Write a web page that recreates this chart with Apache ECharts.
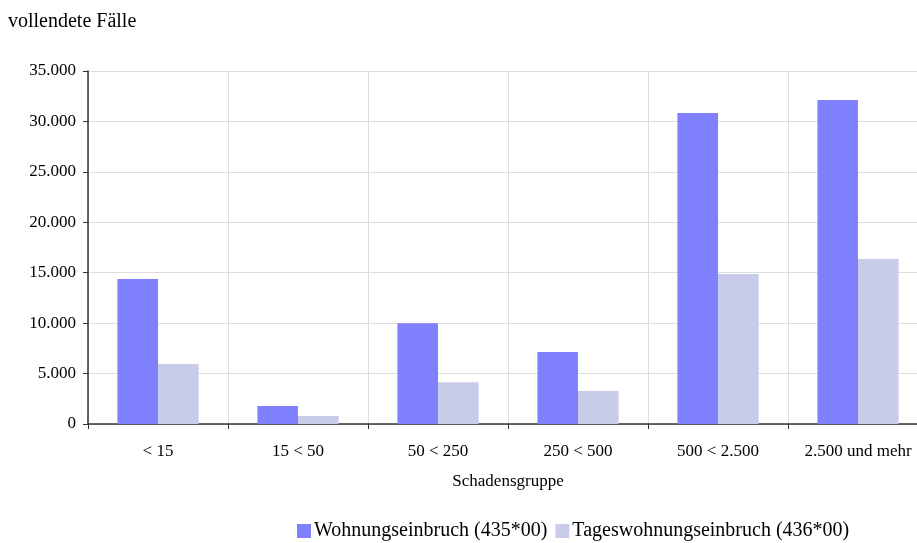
<!DOCTYPE html>
<html>
<head>
<meta charset="utf-8">
<script src="https://cdn.jsdelivr.net/npm/echarts@6/dist/echarts.min.js"></script>
<style>
  html, body { margin: 0; padding: 0; background: #fff; overflow: hidden; }
  #chart { width: 928px; height: 543px; }
</style>
</head>
<body>
<div id="chart"></div>
<script>
    // Schadensgruppen (x-Achse)
    var categories = ['< 15', '15 < 50', '50 < 250', '250 < 500', '500 < 2.500', '2.500 und mehr']
    var wohnung = [14380, 1780, 10000, 7140, 30830, 32120]
    var tageswohnung = [5950, 790, 4150, 3270, 14870, 16360]
    var seriesNames = ['Wohnungseinbruch (435*00)', 'Tageswohnungseinbruch (436*00)']

    var font = 'Liberation Serif'
    // the plot runs a bit past the right window edge, as in the original
    var myChart = echarts.init(document.getElementById('chart'))

    function fmt(v) {
        return String(v).replace(/\B(?=(\d{3})+(?!\d))/g, '.')
    }

    var option = {
        animation: false,
        textStyle: { fontFamily: font, color: '#000' },
        title: {
            text: 'vollendete Fälle',
            left: 3,
            top: 7,
            padding: 5,
            textStyle: { fontFamily: font, fontSize: 20, fontWeight: 'normal', color: '#000' }
        },
        legend: {
            bottom: -3,
            left: 292,
            itemWidth: 14,
            itemHeight: 14,
            itemGap: 8,
            icon: 'rect',
            textStyle: { fontFamily: font, fontSize: 20, color: '#000', padding: [0, 0, 0, -2] },
            data: seriesNames
        },
        grid: {
            left: 88,
            top: 71,
            right: 0,
            bottom: 119
        },
        xAxis: {
            type: 'category',
            data: categories,
            name: 'Schadensgruppe',
            nameLocation: 'middle',
            nameGap: 49,
            nameTextStyle: { fontFamily: font, fontSize: 17, color: '#000' },
            axisLine: { lineStyle: { color: '#333', width: 1.5 } },
            axisTick: { show: true, length: 5, lineStyle: { color: '#333' } },
            axisLabel: { fontFamily: font, fontSize: 17, color: '#000', margin: 19 },
            splitLine: { show: true, lineStyle: { color: '#ddd' } }
        },
        yAxis: {
            type: 'value',
            min: 0,
            max: 35000,
            interval: 5000,
            axisLine: { show: true, lineStyle: { color: '#333', width: 1.5 } },
            axisTick: { show: true, length: 5, lineStyle: { color: '#333' } },
            axisLabel: { fontFamily: font, fontSize: 17, color: '#000', margin: 12, formatter: fmt },
            splitLine: { lineStyle: { color: '#ddd' } }
        },
        series: [
            {
                name: seriesNames[0],
                type: 'bar',
                barGap: '0%',
                barCategoryGap: '42%',
                itemStyle: { color: '#8080ff' },
                data: wohnung
            },
            {
                name: seriesNames[1],
                type: 'bar',
                barGap: '0%',
                barCategoryGap: '42%',
                itemStyle: { color: '#c8cce8' },
                data: tageswohnung
            }
        ]
    }
    myChart.setOption(option)
</script>
</body>
</html>
